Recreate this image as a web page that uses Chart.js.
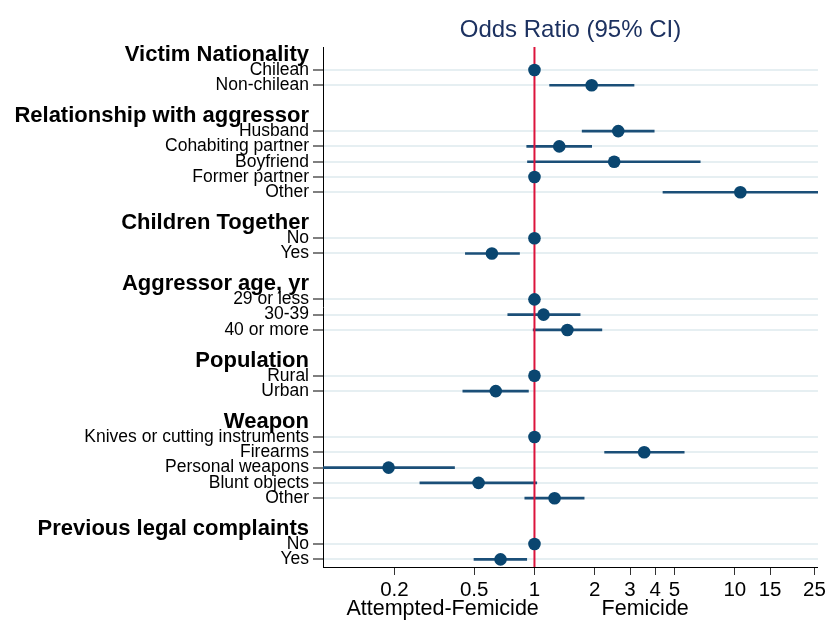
<!DOCTYPE html>
<html><head><meta charset="utf-8">
<script src="https://cdn.jsdelivr.net/npm/chart.js@4/dist/chart.umd.min.js"></script>
<style>html,body{margin:0;padding:0;background:#fff}#wrap{width:829px;height:625px}</style>
</head><body><div id="wrap"><canvas id="c" width="829" height="625"></canvas></div>
<script>
const groupHeaders = ['Victim Nationality','Relationship with aggressor','Children Together','Aggressor age, yr','Population','Weapon','Previous legal complaints'];
const rowLabels = ['Victim Nationality','Chilean','Non-chilean','',
  'Relationship with aggressor','Husband','Cohabiting partner','Boyfriend','Former partner','Other','',
  'Children Together','No','Yes','',
  'Aggressor age, yr','29 or less','30-39','40 or more','',
  'Population','Rural','Urban','',
  'Weapon','Knives or cutting instruments','Firearms','Personal weapons','Blunt objects','Other','',
  'Previous legal complaints','No','Yes'];
const oddsRatio = [null,1,1.93,null,
  null,2.62,1.33,2.50,1,10.66,null,
  null,1,0.613,null,
  null,1,1.11,1.46,null,
  null,1,0.641,null,
  null,1,3.53,0.187,0.526,1.26,null,
  null,1,0.677];
const ciLower = [null,null,1.19,null,
  null,1.73,0.915,0.923,null,4.38,null,
  null,null,0.452,null,
  null,null,0.736,0.985,null,
  null,null,0.439,null,
  null,null,2.24,0.088,0.268,0.895,null,
  null,null,0.499];
const ciUpper = [null,null,3.14,null,
  null,3.96,1.93,6.72,null,26.0,null,
  null,null,0.842,null,
  null,null,1.69,2.17,null,
  null,null,0.933,null,
  null,null,5.59,0.399,1.027,1.77,null,
  null,null,0.915];
const xTickValues = [0.2,0.5,1,2,3,4,5,10,15,25];
const referenceValue = 1;
const titleText = 'Odds Ratio (95% CI)';
const sideLabels = ['Attempted-Femicide','Femicide'];
const sideLabelAt = [0.348, 3.57];

const FONT = "'Liberation Sans', Arial, Helvetica, sans-serif";
const xMin = Math.min(...ciLower.filter(v => v != null));
const xMax = Math.max(...ciUpper.filter(v => v != null));
const isItem = i => oddsRatio[i] != null;
const isHeader = i => groupHeaders.includes(rowLabels[i]);

const decor = {
  id: 'decor',
  afterDatasetDraw(chart, args) {
    if (args.index !== 0) return;
    const {ctx, chartArea, scales} = chart;
    const px = scales.x.getPixelForValue(referenceValue);
    ctx.save();
    ctx.strokeStyle = '#dc143c';
    ctx.lineWidth = 2;
    ctx.beginPath();
    ctx.moveTo(px, chartArea.top);
    ctx.lineTo(px, chartArea.bottom);
    ctx.stroke();
    ctx.restore();
  },
  afterDraw(chart) {
    const {ctx, scales} = chart;
    ctx.save();
    ctx.font = '21.5px ' + FONT;
    ctx.fillStyle = '#000';
    ctx.textAlign = 'center';
    ctx.textBaseline = 'alphabetic';
    sideLabels.forEach((t, k) => {
      ctx.fillText(t, scales.x.getPixelForValue(sideLabelAt[k]), 615);
    });
    ctx.restore();
  }
};

new Chart(document.getElementById('c'), {
  type: 'bar',
  data: {
    labels: rowLabels,
    datasets: [
      {
        type: 'bar',
        data: ciLower.map((l, i) => l == null ? null : [l, ciUpper[i]]),
        backgroundColor: '#1b4f78',
        borderWidth: 0,
        borderSkipped: false,
        barThickness: 2,
        xAxisID: 'x', yAxisID: 'y',
        order: 2
      },
      {
        type: 'line',
        data: oddsRatio,
        showLine: false,
        pointRadius: 6.3,
        pointHoverRadius: 6.3,
        pointBorderWidth: 0,
        pointBackgroundColor: '#0a4670',
        borderColor: '#0a4670',
        xAxisID: 'x', yAxisID: 'y',
        order: 1
      }
    ]
  },
  options: {
    indexAxis: 'y',
    responsive: false,
    animation: false,
    devicePixelRatio: 1,
    layout: {padding: {left: 0, right: 9, top: 0, bottom: 23}},
    plugins: {legend: {display: false}, tooltip: {enabled: false}, title: {display: false}},
    scales: {
      x: {
        type: 'logarithmic',
        position: 'bottom',
        min: xMin, max: xMax,
        afterBuildTicks: s => { s.ticks = xTickValues.map(v => ({value: v})); },
        afterFit: s => { s.height = 35; },
        ticks: {
          callback: v => String(v),
          autoSkip: false, maxRotation: 0,
          font: {family: FONT, size: 20.5},
          color: '#000',
          padding: 3
        },
        grid: {drawOnChartArea: false, tickLength: 8, tickColor: '#333', tickWidth: 1},
        border: {color: '#000', width: 1}
      },
      xTop: {
        type: 'logarithmic',
        axis: 'x',
        position: 'top',
        min: xMin, max: xMax,
        afterFit: s => { s.height = 47; },
        ticks: {display: false},
        grid: {display: false},
        border: {display: false},
        title: {display: true, text: titleText, color: '#1c3160',
          font: {family: FONT, size: 24}, padding: {top: 16, bottom: 0}}
      },
      y: {
        type: 'category',
        offset: true,
        afterFit: s => { s.width = 323; },
        ticks: {
          autoSkip: false,
          color: '#000',
          padding: 4,
          font: ctx => isHeader(ctx.index)
            ? {family: FONT, size: 22, weight: 'bold'}
            : {family: FONT, size: 17.5}
        },
        grid: {
          offset: false,
          color: ctx => isItem(ctx.index) ? '#e6eff2' : 'rgba(0,0,0,0)',
          lineWidth: 2,
          tickColor: ctx => isItem(ctx.index) ? '#555' : 'rgba(0,0,0,0)',
          tickLength: 10,
          tickWidth: 1.5
        },
        border: {color: '#000', width: 1}
      }
    }
  },
  plugins: [decor]
});
</script>
</body></html>
